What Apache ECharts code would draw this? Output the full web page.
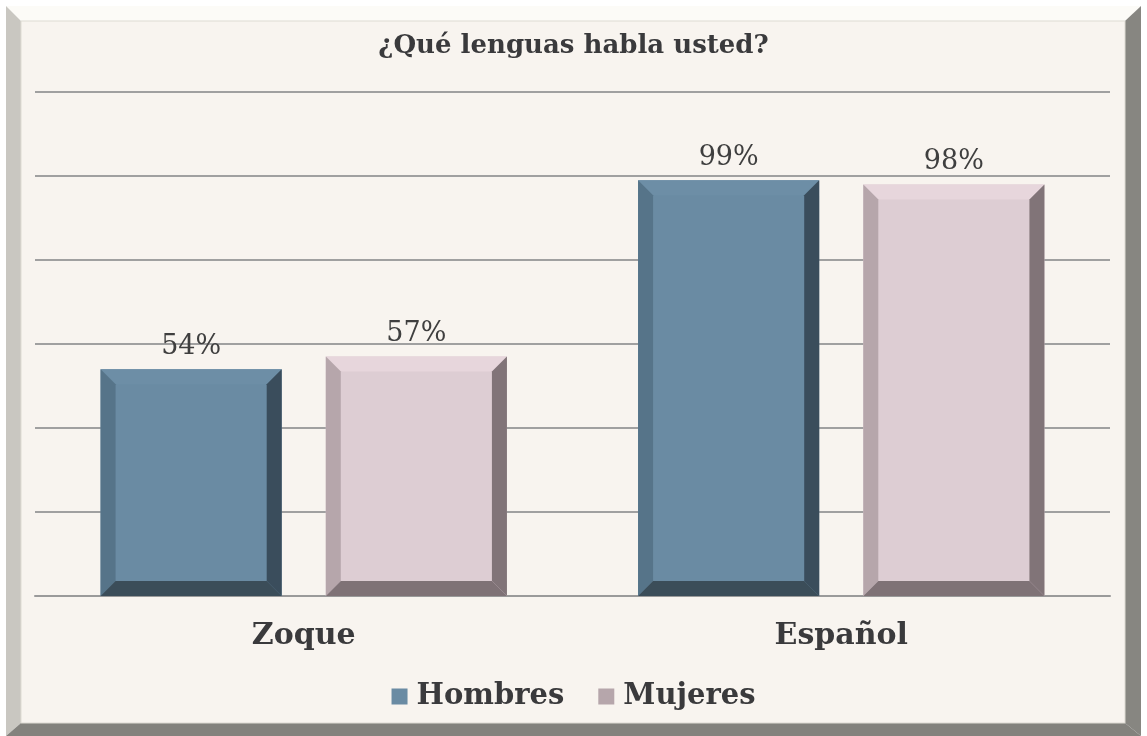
<!DOCTYPE html>
<html><head><meta charset="utf-8">
<script src="https://cdn.jsdelivr.net/npm/echarts@6/dist/echarts.min.js"></script>
<style>html,body{margin:0;padding:0;background:#fff}#c{width:1147px;height:736px}</style>
</head><body><div id="c"></div>
<script>
const title = '¿Qué lenguas habla usted?';
const categories = ['Zoque', 'Español'];
const seriesNames = ['Hombres', 'Mujeres'];
const hombres = [0.54, 0.99];
const mujeres = [0.57, 0.98];
const yTicks = [0, 0.2, 0.4, 0.6, 0.8, 1.0, 1.2];

const FONT = 'DejaVu Serif';
const palettes = [
  {face:'#6A8BA3', top:'#6D8EA6', left:'#567489', right:'#3A4D5C', bottom:'#3B4D59'},
  {face:'#DDCDD3', top:'#E7D6DC', left:'#B6A6AB', right:'#817478', bottom:'#7F7276'}
];

function renderItem(params, api){
  const ci = api.value(0), v = api.value(1);
  const top = api.coord([ci, v]);
  const base = api.coord([ci, 0]);
  const band = api.size([1, 0])[0];
  const w = band * 0.337, gap = band * 0.082;
  const s = params.seriesIndex;
  const cx = top[0] + (s === 0 ? -1 : 1) * (w + gap) / 2;
  const x0 = cx - w/2, x1 = cx + w/2, y0 = top[1], y1 = base[1];
  const b = 15;
  const p = palettes[s];
  return {type:'group', children:[
    {type:'rect', shape:{x:x0, y:y0, width:w, height:y1-y0}, style:{fill:p.face}},
    {type:'polygon', shape:{points:[[x0,y0],[x1,y0],[x1-b,y0+b],[x0+b,y0+b]]}, style:{fill:p.top}},
    {type:'polygon', shape:{points:[[x0,y0],[x0+b,y0+b],[x0+b,y1-b],[x0,y1]]}, style:{fill:p.left}},
    {type:'polygon', shape:{points:[[x1,y0],[x1,y1],[x1-b,y1-b],[x1-b,y0+b]]}, style:{fill:p.right}},
    {type:'polygon', shape:{points:[[x0,y1],[x0+b,y1-b],[x1-b,y1-b],[x1,y1]]}, style:{fill:p.bottom}},
    {type:'text', style:{text: Math.round(v*100) + '%', x:cx, y:y0-9, align:'center', verticalAlign:'bottom',
      font:'27px "' + FONT + '"', fill:'#3F3F3F'}}
  ]};
}

const chart = echarts.init(document.getElementById('c'), null, {renderer:'canvas'});
chart.setOption({
  backgroundColor:'#ffffff',
  animation:false,
  graphic:[
    {type:'polygon', z:-10, shape:{points:[[6,6],[1141,6],[1125,21],[21,21]]}, style:{fill:'#FCFBF7'}},
    {type:'polygon', z:-10, shape:{points:[[6,6],[21,21],[21,723],[6,736]]}, style:{fill:'#C9C7C1'}},
    {type:'polygon', z:-10, shape:{points:[[1141,6],[1141,736],[1125,723],[1125,21]]}, style:{fill:'#878681'}},
    {type:'polygon', z:-10, shape:{points:[[6,736],[21,723],[1125,723],[1141,736]]}, style:{fill:'#83827D'}},
    {type:'rect', z:-10, shape:{x:21, y:21, width:1104, height:702}, style:{fill:'#F8F4EF', stroke:'#DEDBD3', lineWidth:1}}
  ],
  title:{text:title, left:'center', top:28, textStyle:{fontFamily:FONT, fontWeight:'bold', fontSize:26, color:'#3A3A3C'}},
  grid:{left:35, right:37, top:92, bottom:140, containLabel:false},
  xAxis:{type:'category', data:categories,
    axisLine:{show:true, lineStyle:{color:'#9A9A9A', width:2}}, axisTick:{show:false},
    axisLabel:{fontFamily:FONT, fontWeight:'bold', fontSize:30, color:'#3A3A3C', margin:25}},
  yAxis:{type:'value', min:yTicks[0], max:yTicks[yTicks.length-1], interval:0.2,
    axisLabel:{show:false}, axisLine:{show:false}, axisTick:{show:false},
    splitLine:{show:true, lineStyle:{color:'#A0A0A0', width:2}}},
  legend:{bottom:20, left:'center', itemWidth:16, itemHeight:16, itemGap:34, icon:'rect',
    data:seriesNames,
    textStyle:{fontFamily:FONT, fontWeight:'bold', fontSize:29, color:'#3A3A3C', padding:[0,0,0,4]}},
  series:[
    {name:seriesNames[0], type:'custom', renderItem, itemStyle:{color:palettes[0].face},
      data: hombres.map((v,i)=>[i,v]), encode:{x:0, y:1}},
    {name:seriesNames[1], type:'custom', renderItem, itemStyle:{color:palettes[1].left},
      data: mujeres.map((v,i)=>[i,v]), encode:{x:0, y:1}}
  ]
});
</script></body></html>
